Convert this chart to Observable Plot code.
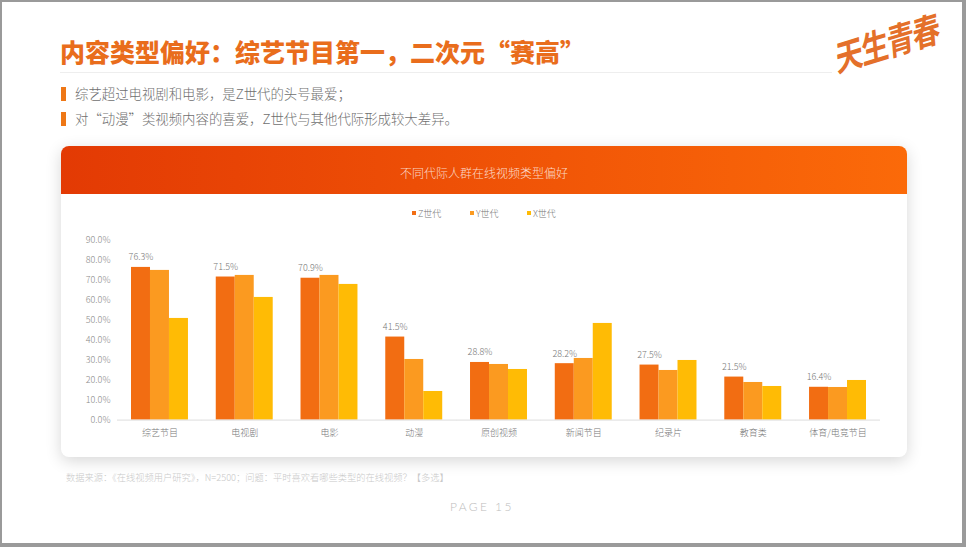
<!DOCTYPE html>
<html lang="zh">
<head>
<meta charset="utf-8">
<script src="https://cdn.jsdelivr.net/npm/d3@7"></script>
<script src="https://cdn.jsdelivr.net/npm/@observablehq/plot@0.6"></script>
<style>
html,body{margin:0;padding:0;background:#9a9a9a;overflow:hidden}
body{width:966px;height:547px;position:relative;font-family:"Noto Sans CJK SC","Noto Sans",sans-serif}
#page{position:absolute;left:2px;top:2px;width:960px;height:541px;background:#fff}
.abs{position:absolute;white-space:nowrap;line-height:1}
#title{left:60px;top:39px;font-size:25px;font-weight:900;color:#e96d1c}
#rule{left:60px;top:72px;width:772px;height:1px;background:#eeeeee}
.bullet-mark{left:61px;width:5px;height:14px;background:#ee7716}
.bullet{left:75px;font-size:13.4px;font-weight:300;color:#6f6f6f}
#logo{left:836px;top:28px;font-size:27px;font-weight:700;color:#e4702a;transform:rotate(-17deg) skewX(-12deg) scale(1.05,1.3);letter-spacing:-1.5px}
#card{left:61px;top:146px;width:846px;height:311px;background:#fff;border-radius:8px;box-shadow:0 4px 16px rgba(0,0,0,.16)}
#band{left:61px;top:146px;width:846px;height:48px;border-radius:8px 8px 0 0;background:linear-gradient(90deg,#e33a04,#fb6a09)}
#bandtext{left:61px;width:846px;top:167px;text-align:center;font-size:12px;font-weight:300;color:rgba(255,255,255,.78)}
#chart{left:61px;top:195px}
.lg{top:208.5px;font-size:9px;font-weight:300;color:#777}
.sw{top:211px;width:4px;height:4px}
#source{left:66px;top:473px;font-size:9.25px;font-weight:300;color:#c9c9c9}
#pg{left:450px;top:501px;font-size:12px;font-weight:300;letter-spacing:2.4px;color:#bdbdbd;font-family:Lato,"Noto Sans",sans-serif}
</style>
</head>
<body>
<div id="page"></div>
<div class="abs" id="title">内容类型偏好&#xFF1A;综艺节目第一&#xFF0C;二次元“赛高”</div>
<div class="abs" id="rule"></div>
<div class="abs" id="logo">天生青春</div>
<div class="abs bullet-mark" style="top:87px"></div>
<div class="abs bullet" style="top:87px">综艺超过电视剧和电影&#xFF0C;是Z世代的头号最爱&#xFF1B;</div>
<div class="abs bullet-mark" style="top:112px"></div>
<div class="abs bullet" style="top:112px">对“动漫”类视频内容的喜爱&#xFF0C;Z世代与其他代际形成较大差异。</div>
<div class="abs" id="card"></div>
<div class="abs" id="band"></div>
<div class="abs" id="bandtext">不同代际人群在线视频类型偏好</div>
<div class="abs" id="chart"></div>
<div id="legend"></div>
<div class="abs" id="source">数据来源&#xFF1A;《在线视频用户研究》&#xFF0C;N=2500&#xFF1B;问题&#xFF1A;平时喜欢看哪些类型的在线视频&#xFF1F;【多选】</div>
<div class="abs" id="pg">PAGE 15</div>
<script>
const categories = ["综艺节目","电视剧","电影","动漫","原创视频","新闻节目","纪录片","教育类","体育/电竞节目"];
const seriesNames = ["Z世代","Y世代","X世代"];
const seriesColors = ["#f26d12","#fb9a20","#ffbb05"];
const zValues = [76.3,71.5,70.9,41.5,28.8,28.2,27.5,21.5,16.4];
const yValues = [74.8,72.3,72.3,30.3,27.8,30.8,24.8,18.8,16.3];
const xValues = [50.8,61.3,67.8,14.3,25.3,48.3,29.8,16.8,19.8];
const yTicks = [0,10,20,30,40,50,60,70,80,90];
const legendX = [412,470,527];

const valuesBySeries = [zValues,yValues,xValues];
const rows = seriesNames.flatMap((s,i)=>categories.map((c,j)=>({category:c,series:s,value:valuesBySeries[i][j]})));
const labelled = rows.filter(d=>d.series==="Z世代");
const pct = d=>d.toFixed(1)+"%";
const font = '"Noto Sans CJK SC","Noto Sans",sans-serif';

const chart = Plot.plot({
  width:846,height:262,
  marginLeft:70,marginRight:41,marginTop:44.5,marginBottom:37.4,
  style:{fontFamily:font,background:"transparent",overflow:"visible"},
  fx:{domain:categories,paddingInner:0.328,paddingOuter:0,label:null,round:false},
  x:{domain:seriesNames,padding:0,axis:null,round:false},
  y:{domain:[0,90],axis:null},
  color:{domain:seriesNames,range:seriesColors},
  marks:[
    Plot.barY(rows,{fx:"category",x:"series",y:"value",fill:"series"}),
    Plot.ruleY([0],{stroke:"#dddddd",insetLeft:-14,insetRight:-14}),
    Plot.text(labelled,{fx:"category",x:"series",y:"value",text:d=>pct(d.value),dy:-10,fontSize:9,fontWeight:300,fill:"#777"}),
    Plot.axisY({ticks:yTicks,tickFormat:pct,tickSize:0,tickPadding:21,fontSize:9,fontWeight:300,color:"#8a8a8a",label:null}),
    Plot.axisFx({anchor:"bottom",tickSize:0,tickPadding:10,fontSize:9,fontWeight:300,color:"#777",label:null})
  ]
});
document.getElementById("chart").appendChild(chart);

const lg = document.getElementById("legend");
seriesNames.forEach((s,i)=>{
  const sw=document.createElement("div");sw.className="abs sw";sw.style.left=legendX[i]+"px";sw.style.background=seriesColors[i];lg.appendChild(sw);
  const t=document.createElement("div");t.className="abs lg";t.style.left=(legendX[i]+6)+"px";t.textContent=s;lg.appendChild(t);
});
</script>
</body>
</html>
